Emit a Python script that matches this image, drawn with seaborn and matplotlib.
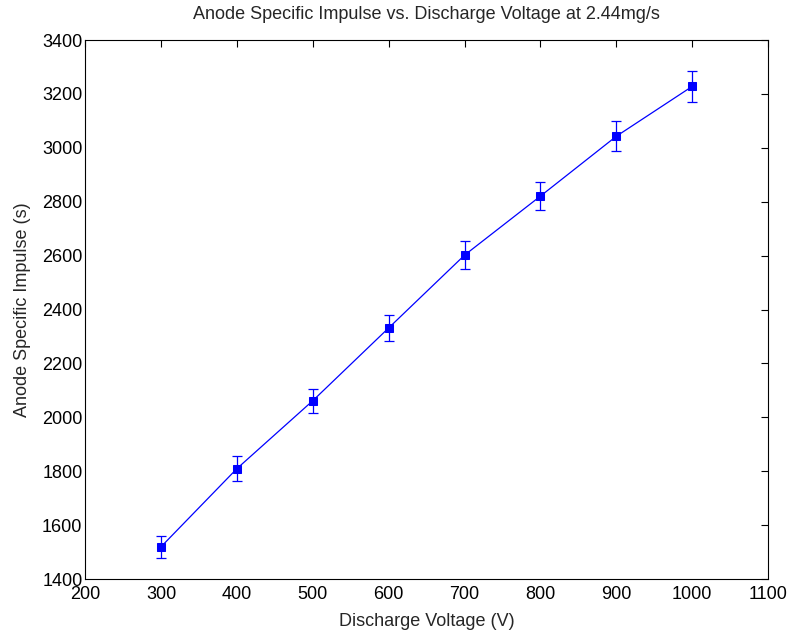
import matplotlib
matplotlib.use("Agg")
import matplotlib.pyplot as plt
import seaborn as sns
import pandas as pd

voltage = [300, 400, 500, 600, 700, 800, 900, 1000]
isp = [1520, 1810, 2062, 2332, 2602, 2821, 3043, 3228]
isp_err = [41, 46, 44, 48, 51, 53, 56, 57]
x_ticks = [200, 300, 400, 500, 600, 700, 800, 900, 1000, 1100]
y_ticks = [1400, 1600, 1800, 2000, 2200, 2400, 2600, 2800, 3000, 3200, 3400]

sns.set_style("white")
plt.rcParams['font.family'] = ['Liberation Sans', 'DejaVu Sans']

df = pd.DataFrame({"V": voltage, "Isp": isp, "err": isp_err})

fig = plt.figure(figsize=(7.96, 6.35), dpi=100)
ax = fig.add_axes([0.107, 0.088, 0.858, 0.849])

ax.errorbar(df["V"], df["Isp"], yerr=df["err"], fmt='none', ecolor='#0000FF',
            elinewidth=0.9, capsize=3.8, capthick=0.9, zorder=2)
sns.lineplot(data=df, x="V", y="Isp", ax=ax, color='#0000FF', linewidth=0.9,
             marker='s', markersize=6, markeredgecolor='#0000FF',
             markerfacecolor='#0000FF', zorder=3)

ax.set_xlim(200, 1100)
ax.set_ylim(1400, 3400)
ax.set_xticks(x_ticks)
ax.set_yticks(y_ticks)
ax.tick_params(direction='in', length=5, width=0.8, top=True, right=True,
               labelsize=13, colors='black')
ax.tick_params(axis='x', pad=5)
ax.tick_params(axis='y', pad=2)
for s in ax.spines.values():
    s.set_visible(True)
    s.set_color('black')
    s.set_linewidth(0.8)
ax.set_xlabel("Discharge Voltage (V)", fontsize=13, labelpad=7)
ax.set_ylabel("Anode Specific Impulse (s)", fontsize=13, labelpad=8)
ax.set_title("Anode Specific Impulse vs. Discharge Voltage at 2.44mg/s", fontsize=13, pad=15)

fig.savefig("out.png", dpi=100)
